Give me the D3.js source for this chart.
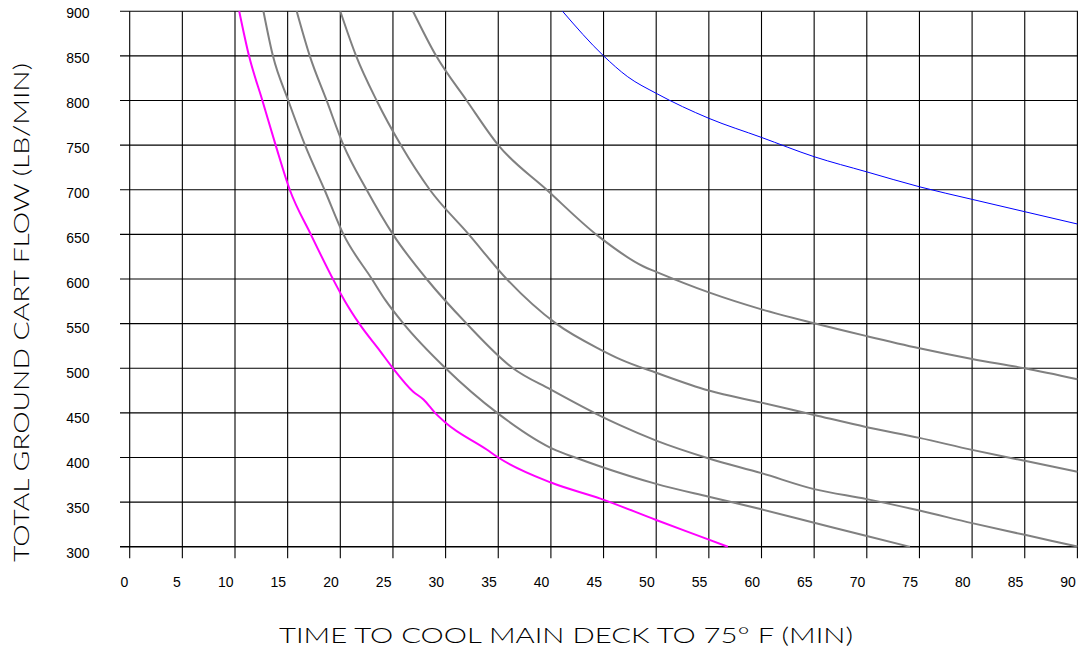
<!DOCTYPE html>
<html>
<head>
<meta charset="utf-8">
<script src="https://cdn.jsdelivr.net/npm/d3@7"></script>
<style>
  html, body { margin: 0; padding: 0; background: #fff; }
  svg { display: block; }
</style>
</head>
<body>
<svg id="chart" width="1079" height="651"></svg>
<script>
// ---- tick labels ----
const xTicks = [0, 5, 10, 15, 20, 25, 30, 35, 40, 45, 50, 55, 60, 65, 70, 75, 80, 85, 90];
const yTicks = [300, 350, 400, 450, 500, 550, 600, 650, 700, 750, 800, 850, 900];

const xTitle = "TIME TO COOL MAIN DECK TO 75° F (MIN)";
const yTitle = "TOTAL GROUND CART FLOW (LB/MIN)";

// ---- series: [time (min), flow (lb/min)] ----
const magentaCurve = [[10.4,900],[11.33,850],[12.6,800],[13.86,750],[15.2,700],[17.2,650],[19.3,600],[20.4,576],[21.8,550],[23.8,519],[25,500],[26.9,474],[27.9,465],[29,450],[30,439],[33.9,409],[35,400],[40,372],[44.7,354],[50,330],[55,308],[56.8,300]];
const grayCurveA = [[12.7,900],[13.6,850],[15.06,800],[16.65,750],[18.5,700],[20.3,650],[23.0,600],[24.3,576],[26.0,550],[30,500],[34.9,450],[40.5,408],[42.3,400],[44.7,390],[50,370.5],[55,356],[60,342],[65,327],[70,312],[74.1,300]];
const grayCurveB = [[15.86,900],[17.1,850],[18.7,800],[20.3,750],[22.5,700],[25.0,650],[28.2,600],[32.0,550],[36.4,500],[40,476],[44.3,449],[46.6,436],[50,419],[55,399],[60,382.5],[65,364.6],[70,353.4],[75,340.6],[80,326.5],[85,313.4],[90,300.3]];
const grayCurveC = [[20.0,900],[21.5,850],[23.45,800],[25.75,750],[28.5,700],[32.2,650],[35.8,600],[40.5,550],[44.7,521],[46.6,510],[50,495],[55,475],[60,461.5],[65,447.7],[70,434],[75,422],[80,408.6],[85,396.3],[90,384]];
const grayCurveD = [[26.9,900],[29.1,850],[32.0,800],[35.0,750],[39.6,700],[44.5,648],[48.8,614],[50,608],[55,585],[60,566],[65,550.4],[70,536],[75,522.4],[80,510.4],[85,500],[90,487.7]];
const blueCurve = [[41.1,900],[45.0,850],[47.3,826.5],[50,808],[55,780],[60,758.6],[65,737],[70,720],[75,703.3],[80,689.2],[85,675.4],[90,661.6]];

const series = [
  { data: grayCurveA, color: "#808080", width: 2 },
  { data: grayCurveB, color: "#808080", width: 2 },
  { data: grayCurveC, color: "#808080", width: 2 },
  { data: grayCurveD, color: "#808080", width: 2 },
  { data: magentaCurve, color: "#ff00ff", width: 2 },
  { data: blueCurve, color: "#0000ff", width: 1 }
];

const svg = d3.select("#chart");

const x = d3.scaleLinear().domain([0, 90]).range([129.7, 1077.4]);
const y = d3.scaleLinear().domain([300, 900]).range([546.8, 11.2]);
// label placement scale (labels are spaced slightly differently from grid)
const yLab = d3.scaleLinear().domain([300, 900]).range([552.8, 13.3]);

// grid
const grid = svg.append("g");
grid.selectAll("line.v").data(xTicks).join("line")
  .attr("class", "v")
  .attr("x1", d => x(d)).attr("x2", d => x(d))
  .attr("y1", y(900)).attr("y2", y(300) + 11.5)
  .attr("stroke", "#000").attr("stroke-width", 1.1);
grid.selectAll("line.h").data(yTicks).join("line")
  .attr("class", "h")
  .attr("x1", 120).attr("x2", x(90) + 0.5)
  .attr("y1", d => y(d)).attr("y2", d => y(d))
  .attr("stroke", "#000").attr("stroke-width", d => d === 300 ? 1.6 : 1.1);

// tick labels
svg.append("g").selectAll("text").data(yTicks).join("text")
  .attr("x", 89.5)
  .attr("y", d => yLab(d) + 5)
  .attr("text-anchor", "end")
  .attr("font-family", "Liberation Sans, Arial, sans-serif")
  .attr("font-size", 14)
  .attr("fill", "#000")
  .text(d => d);

svg.append("g").selectAll("text").data(xTicks).join("text")
  .attr("x", d => x(d) - 1.5)
  .attr("y", 587.3)
  .attr("text-anchor", "end")
  .attr("font-family", "Liberation Sans, Arial, sans-serif")
  .attr("font-size", 14)
  .attr("fill", "#000")
  .text(d => d);

// curves
const line = d3.line()
  .x(d => x(d[0]))
  .y(d => y(d[1]))
  .curve(d3.curveMonotoneX);

svg.append("g").selectAll("path").data(series).join("path")
  .attr("d", d => line(d.data))
  .attr("fill", "none")
  .attr("stroke", d => d.color)
  .attr("stroke-width", d => d.width)
  .attr("stroke-linejoin", "round");

// axis titles
svg.append("text")
  .attr("x", 279)
  .attr("y", 643.3)
  .attr("textLength", 574)
  .attr("lengthAdjust", "spacingAndGlyphs")
  .attr("font-family", "Lato, Liberation Sans, sans-serif")
  .attr("font-weight", 300)
  .attr("font-size", 21)
  .attr("fill", "#000")
  .text(xTitle);

svg.append("text")
  .attr("transform", "translate(28.5,562) rotate(-90)")
  .attr("x", 0)
  .attr("y", 0)
  .attr("textLength", 499)
  .attr("lengthAdjust", "spacingAndGlyphs")
  .attr("font-family", "Lato, Liberation Sans, sans-serif")
  .attr("font-weight", 300)
  .attr("font-size", 21)
  .attr("fill", "#000")
  .text(yTitle);
</script>
</body>
</html>
